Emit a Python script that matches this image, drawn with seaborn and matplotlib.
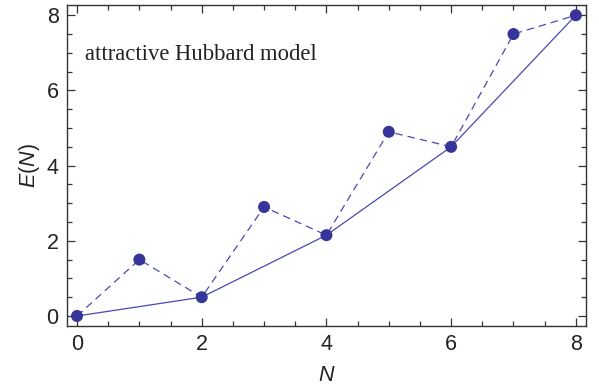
import matplotlib
matplotlib.use("Agg")
import matplotlib.pyplot as plt
import seaborn as sns
import pandas as pd
from matplotlib.ticker import MultipleLocator

N_all = [0, 1, 2, 3, 4, 5, 6, 7, 8]
E_all = [0.0, 1.5, 0.5, 2.9, 2.15, 4.9, 4.5, 7.5, 8.0]
N_even = [0, 2, 4, 6, 8]
E_even = [0.0, 0.5, 2.15, 4.5, 8.0]
x_ticks = [0, 2, 4, 6, 8]
y_ticks = [0, 2, 4, 6, 8]
annotation = "attractive Hubbard model"

sns.set_style("ticks")
plt.rcParams['font.family'] = ['Liberation Sans', 'DejaVu Sans']
plt.rcParams['mathtext.fontset'] = 'custom'
plt.rcParams['mathtext.rm'] = 'Liberation Sans'
plt.rcParams['mathtext.it'] = 'Liberation Sans:italic'

df_all = pd.DataFrame({"N": N_all, "E": E_all})
df_even = pd.DataFrame({"N": N_even, "E": E_even})

fig = plt.figure(figsize=(5.99, 3.92), dpi=100)
ax = fig.add_axes([0.1119, 0.168, 0.978 - 0.1119, 0.987 - 0.168])

line_col = "#4a4ab0"
pt_col = "#35359a"

sns.lineplot(data=df_even, x="N", y="E", ax=ax, color=line_col, lw=0.9,
             estimator=None, sort=False)
sns.lineplot(data=df_all, x="N", y="E", ax=ax, color=line_col, lw=0.9,
             estimator=None, sort=False, dashes=False, linestyle=(0, (6, 4)))
sns.scatterplot(data=df_all, x="N", y="E", ax=ax, color=pt_col, s=75,
                edgecolor="none", zorder=5)

ax.set_xlim(-0.16, 8.16)
ax.set_ylim(-0.27, 8.27)
ax.set_xticks(x_ticks)
ax.set_yticks(y_ticks)
ax.xaxis.set_minor_locator(MultipleLocator(0.5))
ax.yaxis.set_minor_locator(MultipleLocator(0.5))
ax.tick_params(which="both", direction="in", top=True, right=True,
               color="#333333", width=0.9)
ax.tick_params(which="major", length=6, labelsize=15.5, pad=6, labelcolor="#222222")
ax.tick_params(which="minor", length=3.5)
for s in ax.spines.values():
    s.set_linewidth(1.0)
    s.set_color("#333333")
    s.set_visible(True)

ax.set_xlabel("$N$", fontsize=15.5, labelpad=7, color="#222222")
ax.set_ylabel("$E(N)$", fontsize=15.5, labelpad=3, color="#222222")

ax.text(0.13, 6.96, annotation, fontsize=16.3, family=["Liberation Serif"],
        color="#222222", va="center", ha="left")

fig.savefig("out.png", dpi=100)
